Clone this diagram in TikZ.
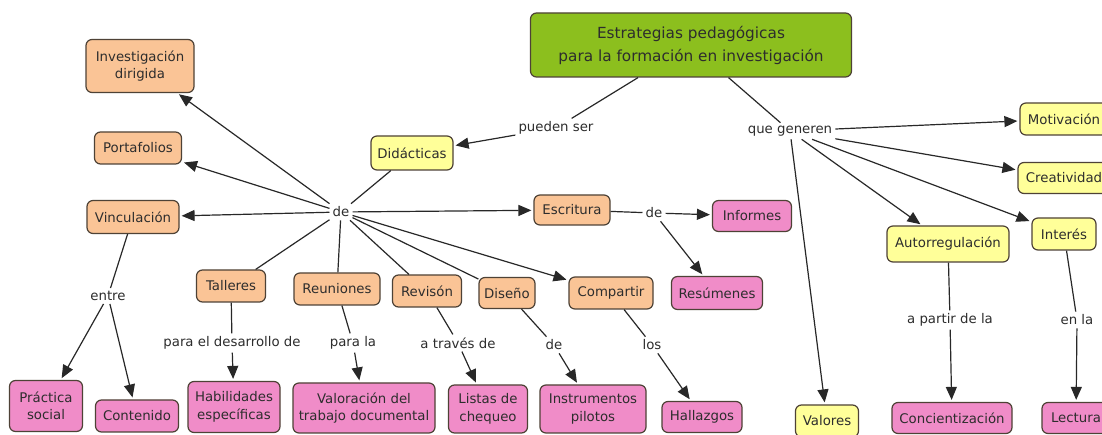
\documentclass[tikz,border=0pt]{standalone}
\usepackage{fontspec}
\setmainfont{DejaVu Sans}
\usetikzlibrary{arrows.meta}
\definecolor{orfill}{RGB}{250,196,150}
\definecolor{pkfill}{RGB}{240,140,200}
\definecolor{ylfill}{RGB}{255,255,153}
\definecolor{grfill}{RGB}{140,191,30}
\definecolor{bordc}{RGB}{78,66,54}
\definecolor{txtc}{RGB}{45,45,45}
\definecolor{linec}{RGB}{40,40,40}
\begin{document}
\begin{tikzpicture}[x=1bp,y=-1bp,
  cbox/.style={draw=bordc, line width=1.2bp, rounded corners=6bp, align=center,
    text=txtc, inner sep=2bp, font=\fontsize{13.3bp}{17.5bp}\selectfont},
  obox/.style={cbox, fill=orfill},
  pbox/.style={cbox, fill=pkfill},
  ybox/.style={cbox, fill=ylfill},
  gbox/.style={cbox, fill=grfill, font=\fontsize{15.3bp}{23bp}\selectfont},
  lab/.style={text=txtc, inner sep=3bp, font=\fontsize{13.3bp}{15bp}\selectfont},
  con/.style={draw=linec, line width=1.2bp},
  arr/.style={con, -{Triangle[length=13bp,width=11bp]}, shorten >=2bp}]
\useasboundingbox (0,0) rectangle (1102,435);
\fill[white] (0,0) rectangle (1102,435);
\clip (0,0) rectangle (1102,435);

% concept boxes
\node[gbox, minimum width=321bp, minimum height=64bp] (title) at (691,45) {Estrategias pedagógicas\\para la formación en investigación};
\node[obox, minimum width=108bp, minimum height=53bp] (invdir) at (140,66) {Investigación\\dirigida};
\node[obox, minimum width=87bp, minimum height=32bp] (portaf) at (138,148) {Portafolios};
\node[ybox, minimum width=82bp, minimum height=34bp] (didac) at (412,153) {Didácticas};
\node[obox, minimum width=92bp, minimum height=33bp] (vinc) at (133,217) {Vinculación};
\node[obox, minimum width=76bp, minimum height=30bp] (escrit) at (572,210) {Escritura};
\node[pbox, minimum width=79bp, minimum height=31bp] (informes) at (752,216) {Informes};
\node[obox, minimum width=69bp, minimum height=32bp] (talleres) at (231,286) {Talleres};
\node[obox, minimum width=86bp, minimum height=32bp] (reuniones) at (337,289) {Reuniones};
\node[obox, minimum width=69bp, minimum height=32bp] (revison) at (427,291) {Revisón};
\node[obox, minimum width=56bp, minimum height=31bp] (diseno) at (507,293) {Diseño};
\node[obox, minimum width=84bp, minimum height=32bp] (compartir) at (611,293) {Compartir};
\node[pbox, minimum width=91bp, minimum height=33bp] (resumenes) at (717,293) {Resúmenes};
\node[ybox, minimum width=88bp, minimum height=32bp] (motiv) at (1064,119) {Motivación};
\node[ybox, minimum width=92bp, minimum height=31bp] (creat) at (1064,178) {Creatividad};
\node[ybox, minimum width=64bp, minimum height=32bp] (interes) at (1064,234) {Interés};
\node[ybox, minimum width=122bp, minimum height=36bp] (autorreg) at (948,244) {Autorregulación};
\node[pbox, minimum width=73bp, minimum height=51bp] (practica) at (46,406) {Práctica\\social};
\node[pbox, minimum width=83bp, minimum height=32bp] (contenido) at (137,416) {Contenido};
\node[pbox, minimum width=92bp, minimum height=51bp] (habil) at (234,407) {Habilidades\\específicas};
\node[pbox, minimum width=142bp, minimum height=50bp] (valor) at (364,408) {Valoración del\\trabajo documental};
\node[pbox, minimum width=79bp, minimum height=48bp] (listas) at (488,409) {Listas de\\chequeo};
\node[pbox, minimum width=106bp, minimum height=48bp] (instr) at (593,409) {Instrumentos\\pilotos};
\node[pbox, minimum width=80bp, minimum height=31bp] (hallaz) at (702,417) {Hallazgos};
\node[ybox, minimum width=63bp, minimum height=32bp] (valores) at (827,421) {Valores};
\node[pbox, minimum width=120bp, minimum height=31bp] (concien) at (952,418) {Concientización};
\node[pbox, minimum width=68bp, minimum height=31bp] (lectura) at (1076,418) {Lectura};

% linking phrases
\node[lab] (pueden) at (556,128) {pueden ser};
\node[lab] (quegen) at (790,131) {que generen};
\node[lab] (de1) at (341,212) {de};
\node[lab] (de2) at (654,213) {de};
\node[lab] (entre) at (108,296) {entre};
\node[lab] (paradesa) at (232,343) {para el desarrollo de};
\node[lab] (parala) at (353,343) {para la};
\node[lab] (atraves) at (458,343) {a través de};
\node[lab] (de3) at (554,345) {de};
\node[lab] (los) at (652,345) {los};
\node[lab] (apartir) at (950,320) {a partir de la};
\node[lab] (enla) at (1077,320) {en la};

% connectors
\draw[con] (title) -- (pueden);
\draw[arr] (pueden) -- (didac);
\draw[con] (title) -- (quegen);
\draw[arr] (quegen) -- (motiv);
\draw[arr] (quegen) -- (creat);
\draw[arr] (quegen) -- (interes);
\draw[arr] (quegen) -- (autorreg);
\draw[arr] (quegen) -- (valores);

\draw[con] (didac) -- (de1);
\draw[arr] (de1) -- (invdir);
\draw[arr] (de1) -- (portaf);
\draw[arr] (de1) -- (vinc);
\draw[arr] (de1) -- (escrit);
\draw[arr] (de1) -- (compartir);
\draw[con] (de1) -- (talleres);
\draw[con] (de1) -- (reuniones);
\draw[con] (de1) -- (revison);
\draw[con] (de1) -- (diseno);

\draw[con] (escrit) -- (de2);
\draw[arr] (de2) -- (informes);
\draw[arr] (de2) -- (resumenes);

\draw[con] (vinc) -- (entre);
\draw[arr] (entre) -- (practica);
\draw[arr] (entre) -- (contenido);

\draw[con] (talleres) -- (paradesa);
\draw[arr] (paradesa) -- (habil);
\draw[con] (reuniones) -- (parala);
\draw[arr] (parala) -- (valor);
\draw[con] (revison) -- (atraves);
\draw[arr] (atraves) -- (listas);
\draw[con] (diseno) -- (de3);
\draw[arr] (de3) -- (instr);
\draw[con] (compartir) -- (los);
\draw[arr] (los) -- (hallaz);
\draw[con] (autorreg) -- (apartir);
\draw[arr] (apartir) -- (concien);
\draw[con] (interes) -- (enla);
\draw[arr] (enla) -- (lectura);
\end{tikzpicture}
\end{document}
